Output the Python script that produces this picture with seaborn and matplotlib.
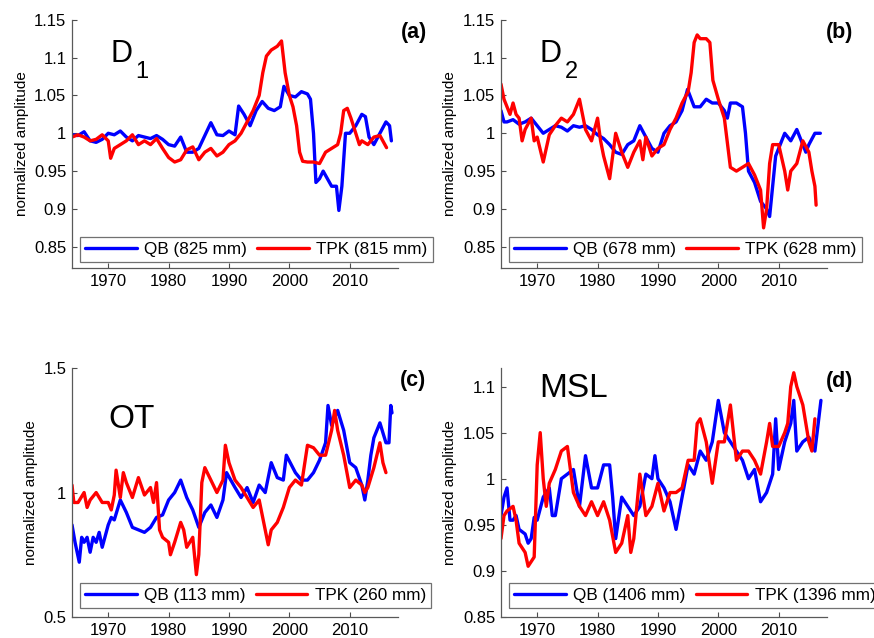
import matplotlib
matplotlib.use("Agg")
import matplotlib.pyplot as plt
import seaborn as sns
import pandas as pd

# ---- (a) D1 ----
a_qb_year = [1964, 1965, 1966, 1967, 1968, 1969, 1970, 1971, 1972, 1973, 1974, 1975, 1976, 1977,
             1978, 1979, 1980, 1981, 1982, 1983, 1984, 1985, 1986, 1987, 1988, 1989, 1990, 1991,
             1991.6, 1992.5, 1993.5, 1994.5, 1995.5, 1996.5, 1997.5, 1998.5, 1999.1, 2000, 2001,
             2002, 2003, 2003.5, 2004.0, 2004.4, 2005, 2005.6, 2006.3, 2007, 2007.8, 2008.2,
             2008.7, 2009.3, 2010, 2011, 2012, 2012.6, 2013.2, 2014, 2015, 2016, 2016.6, 2016.9]
a_qb_amp = [0.998, 0.997, 1.002, 0.99, 0.988, 0.992, 1.0, 0.998, 1.003, 0.995, 0.99, 0.997, 0.995,
            0.993, 0.997, 0.992, 0.985, 0.983, 0.995, 0.975, 0.975, 0.98, 0.997, 1.014, 0.998,
            0.997, 1.003, 0.998, 1.036, 1.025, 1.01, 1.03, 1.042, 1.033, 1.03, 1.035, 1.062, 1.05,
            1.048, 1.055, 1.052, 1.045, 1.0, 0.935, 0.94, 0.95, 0.94, 0.93, 0.93, 0.898, 0.93, 1.0,
            1.0, 1.01, 1.025, 1.022, 0.995, 0.985, 1.0, 1.015, 1.01, 0.99]
a_tpk_year = [1964, 1965, 1966, 1967, 1968, 1969, 1970, 1970.4, 1971, 1972, 1973, 1974, 1975,
              1976, 1977, 1978, 1979, 1980, 1981, 1982, 1983, 1984, 1985, 1986, 1987, 1988, 1989,
              1990, 1991, 1992, 1993, 1994, 1995, 1995.6, 1996.2, 1997, 1998, 1998.7, 1999.3,
              2000, 2000.6, 2001.2, 2001.7, 2002.2, 2003, 2004, 2005, 2006, 2007, 2008, 2008.5,
              2009, 2009.6, 2010.2, 2011, 2011.6, 2012, 2013, 2014, 2015, 2016.1]
a_tpk_amp = [0.995, 0.998, 0.995, 0.99, 0.992, 0.998, 0.99, 0.967, 0.98, 0.985, 0.99, 0.998,
             0.985, 0.99, 0.985, 0.993, 0.98, 0.968, 0.962, 0.965, 0.978, 0.982, 0.965, 0.975,
             0.98, 0.97, 0.975, 0.985, 0.99, 1.0, 1.015, 1.03, 1.05, 1.08, 1.102, 1.11, 1.115,
             1.122, 1.08, 1.05, 1.035, 1.01, 0.975, 0.963, 0.962, 0.962, 0.96, 0.975, 0.98, 0.985,
             1.0, 1.03, 1.033, 1.02, 1.0, 0.985, 0.99, 0.985, 0.995, 0.997, 0.981]

# ---- (b) D2 ----
b_qb_year = [1964, 1964.5, 1965, 1966, 1967, 1968, 1969, 1970, 1971, 1972, 1973, 1974, 1975, 1976,
             1977, 1978, 1979, 1980, 1981, 1982, 1983, 1984, 1985, 1986, 1987, 1988, 1989, 1990,
             1991, 1992, 1993, 1994, 1994.9, 1996, 1997, 1998, 1999, 2000, 2001, 2001.5, 2002,
             2003, 2004, 2004.5, 2005, 2006, 2007, 2008, 2008.5, 2009, 2009.5, 2010, 2011, 2012,
             2013, 2014, 2014.5, 2015, 2016, 2016.9]
b_qb_amp = [1.03, 1.015, 1.015, 1.018, 1.012, 1.015, 1.02, 1.01, 1.0, 1.005, 1.01, 1.008, 1.003,
            1.01, 1.008, 1.01, 1.005, 0.998, 0.993, 0.985, 0.975, 0.972, 0.985, 0.99, 1.01, 0.995,
            0.98, 0.975, 1.0, 1.01, 1.015, 1.03, 1.058, 1.035, 1.035, 1.045, 1.04, 1.04, 1.03,
            1.02, 1.04, 1.04, 1.035, 1.0, 0.95, 0.935, 0.91, 0.9, 0.89, 0.93, 0.97, 0.98, 1.0,
            0.99, 1.005, 0.985, 0.975, 0.985, 1.0, 1.0]
b_tpk_year = [1964, 1964.5, 1965, 1965.5, 1966, 1966.5, 1967, 1967.5, 1968, 1969, 1969.5, 1970,
              1971, 1972, 1973, 1974, 1975, 1976, 1977, 1978, 1979, 1980, 1980.5, 1981, 1982,
              1983, 1984, 1985, 1986, 1987, 1987.5, 1988, 1989, 1990, 1991, 1992, 1993, 1994,
              1995, 1995.5, 1996, 1996.5, 1997, 1998, 1998.6, 1999.1, 2000, 2001, 2002, 2003,
              2004, 2005, 2006, 2007, 2007.5, 2008, 2008.5, 2009, 2010, 2011, 2011.5, 2012, 2013,
              2014, 2015, 2015.5, 2016, 2016.2]
b_tpk_amp = [1.065, 1.045, 1.035, 1.025, 1.04, 1.025, 1.02, 0.99, 1.005, 1.02, 0.99, 0.995,
             0.962, 0.998, 1.01, 1.02, 1.015, 1.025, 1.045, 1.005, 0.99, 1.02, 0.99, 0.97, 0.94,
             1.0, 0.975, 0.955, 0.975, 0.99, 0.965, 0.995, 0.97, 0.98, 0.985, 1.005, 1.02, 1.04,
             1.055, 1.08, 1.12, 1.13, 1.125, 1.125, 1.12, 1.07, 1.045, 1.02, 0.955, 0.95, 0.955,
             0.96, 0.945, 0.925, 0.875, 0.9, 0.96, 0.985, 0.985, 0.95, 0.925, 0.95, 0.96, 0.99,
             0.975, 0.95, 0.93, 0.905]

# ---- (c) OT ----
c_qb_year = [1964, 1964.5, 1965.2, 1965.6, 1966, 1966.5, 1967, 1967.5, 1968, 1968.5, 1969, 1970,
             1970.5, 1971, 1972, 1973, 1974, 1975, 1976, 1977, 1978, 1979, 1980, 1981, 1982,
             1983, 1984, 1985, 1986, 1987, 1988, 1989, 1989.6, 1991, 1992, 1993, 1994, 1995,
             1996, 1997, 1998, 1999, 1999.5, 2001, 2002, 2003, 2004, 2005, 2006, 2006.4, 2007,
             2008, 2009, 2010, 2011, 2012, 2012.5, 2013, 2013.5, 2014, 2015, 2016, 2016.5,
             2016.8, 2017]
c_qb_amp = [0.87, 0.8, 0.72, 0.82, 0.8, 0.82, 0.76, 0.82, 0.8, 0.84, 0.78, 0.87, 0.9, 0.89, 0.97,
            0.92, 0.86, 0.85, 0.84, 0.86, 0.9, 0.91, 0.97, 1.0, 1.05, 0.98, 0.93, 0.86, 0.92,
            0.95, 0.9, 0.97, 1.08, 1.02, 0.98, 1.02, 0.96, 1.03, 1.0, 1.12, 1.06, 1.05, 1.15,
            1.08, 1.05, 1.05, 1.08, 1.13, 1.2, 1.35, 1.27, 1.33, 1.25, 1.12, 1.1, 1.03, 0.97,
            1.05, 1.15, 1.22, 1.28, 1.2, 1.2, 1.35, 1.32]
c_tpk_year = [1964, 1964.3, 1965, 1966, 1966.5, 1967, 1968, 1969, 1970, 1970.5, 1971, 1971.3,
              1972, 1972.5, 1973, 1974, 1975, 1976, 1977, 1977.5, 1978, 1978.5, 1979, 1980,
              1980.3, 1981, 1982, 1982.5, 1983, 1984, 1984.6, 1985, 1985.5, 1986, 1987, 1988,
              1989, 1989.4, 1990, 1991, 1992, 1993, 1994, 1995, 1996, 1996.5, 1997, 1998, 1999,
              2000, 2001, 2002, 2003, 2004, 2005, 2006, 2007, 2007.5, 2008, 2009, 2010, 2011,
              2012, 2012.5, 2013, 2014, 2015, 2015.5, 2016]
c_tpk_amp = [1.03, 0.96, 0.96, 1.0, 0.94, 0.97, 1.0, 0.96, 0.96, 0.93, 0.99, 1.09, 0.98, 1.08,
             1.04, 0.98, 1.06, 0.99, 1.02, 0.96, 1.04, 0.85, 0.82, 0.8, 0.75, 0.8, 0.88, 0.85,
             0.78, 0.82, 0.67, 0.75, 1.04, 1.1, 1.05, 1.0, 1.05, 1.19, 1.12, 1.05, 1.02, 0.98,
             0.94, 0.97, 0.85, 0.79, 0.85, 0.88, 0.94, 1.02, 1.05, 1.03, 1.19, 1.18, 1.15, 1.15,
             1.25, 1.33, 1.25, 1.15, 1.02, 1.05, 1.03, 1.0, 1.02, 1.1, 1.2, 1.12, 1.08]

# ---- (d) MSL ----
d_qb_year = [1964, 1964.5, 1965, 1965.5, 1966, 1966.5, 1967, 1968, 1968.5, 1969, 1969.5, 1970,
             1971, 1972, 1972.5, 1973, 1974, 1975, 1976, 1977, 1978, 1979, 1980, 1981, 1982,
             1982.5, 1983, 1984, 1985, 1986, 1987, 1988, 1989, 1989.5, 1990, 1991, 1992, 1993,
             1994, 1995, 1996, 1997, 1998, 1999, 2000, 2001, 2002, 2003, 2004, 2005, 2006, 2007,
             2008, 2009, 2009.5, 2010, 2011, 2012, 2012.5, 2013, 2014, 2015, 2016, 2017]
d_qb_amp = [0.96, 0.98, 0.99, 0.955, 0.955, 0.96, 0.945, 0.94, 0.93, 0.935, 0.958, 0.955, 0.98,
            0.99, 0.96, 0.96, 1.0, 1.005, 1.01, 0.97, 1.025, 0.99, 0.99, 1.015, 1.015, 0.98,
            0.935, 0.98, 0.97, 0.96, 0.97, 1.005, 1.0, 1.025, 1.0, 0.99, 0.975, 0.945, 0.98,
            1.015, 1.005, 1.03, 1.02, 1.04, 1.085, 1.05, 1.04, 1.03, 1.02, 1.0, 1.01, 0.975,
            0.985, 1.005, 1.065, 1.01, 1.04, 1.06, 1.085, 1.03, 1.04, 1.045, 1.03, 1.085]
d_tpk_year = [1964, 1964.5, 1965, 1966, 1966.5, 1967, 1968, 1968.5, 1969, 1969.5, 1970, 1970.5,
              1971, 1971.5, 1972, 1973, 1974, 1975, 1976, 1977, 1978, 1979, 1980, 1981, 1982,
              1983, 1984, 1985, 1985.5, 1986, 1987, 1988, 1989, 1990, 1991, 1992, 1993, 1994,
              1995, 1996, 1996.5, 1997, 1998, 1999, 2000, 2001, 2002, 2003, 2004, 2005, 2006,
              2007, 2008, 2008.5, 2009, 2010, 2011, 2011.5, 2012, 2012.5, 2013, 2014, 2015,
              2015.5, 2016]
d_tpk_amp = [0.935, 0.96, 0.965, 0.97, 0.955, 0.93, 0.92, 0.905, 0.91, 0.915, 1.015, 1.05, 1.0,
             0.97, 0.995, 1.01, 1.03, 1.035, 0.985, 0.97, 0.96, 0.975, 0.96, 0.975, 0.955, 0.92,
             0.93, 0.96, 0.92, 0.935, 1.005, 0.96, 0.97, 0.995, 0.965, 0.985, 0.985, 0.99, 1.02,
             1.02, 1.06, 1.065, 1.04, 0.995, 1.04, 1.04, 1.08, 1.02, 1.03, 1.03, 1.02, 1.005,
             1.04, 1.06, 1.035, 1.035, 1.05, 1.06, 1.1, 1.115, 1.1, 1.08, 1.04, 1.03, 1.065]

legend_labels = {
    "a": ("QB (825 mm)", "TPK (815 mm)"),
    "b": ("QB (678 mm)", "TPK (628 mm)"),
    "c": ("QB (113 mm)", "TPK (260 mm)"),
    "d": ("QB (1406 mm)", "TPK (1396 mm)"),
}
y_ticks = {
    "a": [0.85, 0.9, 0.95, 1.0, 1.05, 1.1, 1.15],
    "b": [0.85, 0.9, 0.95, 1.0, 1.05, 1.1, 1.15],
    "c": [0.5, 1.0, 1.5],
    "d": [0.85, 0.9, 0.95, 1.0, 1.05, 1.1],
}
y_tick_labels = {
    "a": ["0.85", "0.9", "0.95", "1", "1.05", "1.1", "1.15"],
    "b": ["0.85", "0.9", "0.95", "1", "1.05", "1.1", "1.15"],
    "c": ["0.5", "1", "1.5"],
    "d": ["0.85", "0.9", "0.95", "1", "1.05", "1.1"],
}
x_ticks = [1970, 1980, 1990, 2000, 2010]

series = {
    "a": (a_qb_year, a_qb_amp, a_tpk_year, a_tpk_amp),
    "b": (b_qb_year, b_qb_amp, b_tpk_year, b_tpk_amp),
    "c": (c_qb_year, c_qb_amp, c_tpk_year, c_tpk_amp),
    "d": (d_qb_year, d_qb_amp, d_tpk_year, d_tpk_amp),
}

sns.set_theme(style="ticks")
plt.rcParams["font.family"] = ["Liberation Sans", "DejaVu Sans"]
plt.rcParams["text.color"] = "black"
plt.rcParams["axes.labelcolor"] = "black"
plt.rcParams["xtick.labelcolor"] = "black"
plt.rcParams["ytick.labelcolor"] = "black"

fig = plt.figure(figsize=(8.74, 6.38), dpi=100)

# axes rectangles and limits
rects = {
    "a": [0.0824, 0.580, 0.373, 0.389],
    "b": [0.5732, 0.580, 0.373, 0.389],
    "c": [0.0824, 0.033, 0.373, 0.390],
    "d": [0.5732, 0.033, 0.373, 0.390],
}
ylims = {"a": (0.822, 1.15), "b": (0.822, 1.15), "c": (0.5, 1.5), "d": (0.85, 1.12)}
legend_y = {"a": 0.022, "b": 0.022, "c": 0.034, "d": 0.034}

for key in ["a", "b", "c", "d"]:
    ax = fig.add_axes(rects[key])
    qb_x, qb_y, tpk_x, tpk_y = series[key]
    lab_qb, lab_tpk = legend_labels[key]
    df = pd.concat([
        pd.DataFrame({"year": qb_x, "amp": qb_y, "series": lab_qb}),
        pd.DataFrame({"year": tpk_x, "amp": tpk_y, "series": lab_tpk}),
    ])
    sns.lineplot(data=df, x="year", y="amp", hue="series",
                 palette={lab_qb: "#0000ff", lab_tpk: "#ff0000"},
                 estimator=None, linewidth=2.4, ax=ax)
    ax.set_xlim(1964, 2018)
    ax.set_ylim(*ylims[key])
    ax.set_xticks(x_ticks)
    ax.set_yticks(y_ticks[key])
    ax.set_yticklabels(y_tick_labels[key])
    ax.set_xlabel("")
    ax.set_ylabel("normalized amplitude", fontsize=11, color="black")
    ax.tick_params(direction="in", length=3.5, width=0.8, labelsize=12,
                   color="0.3", labelcolor="black", pad=4)
    sns.despine(ax=ax)
    for s in ["left", "bottom"]:
        ax.spines[s].set_color("0.35")
        ax.spines[s].set_linewidth(0.9)
    leg = ax.legend(loc="lower left", bbox_to_anchor=(0.025, legend_y[key]), ncol=2,
                    fontsize=12.3, handlelength=3.0, handletextpad=0.45,
                    columnspacing=0.6, borderpad=0.3, borderaxespad=0.0,
                    frameon=True, fancybox=False, labelcolor="black")
    leg.get_frame().set_edgecolor("0.3")
    leg.get_frame().set_linewidth(0.9)

    letter_x = {"a": 1.049, "b": 1.038, "c": 1.046, "d": 1.038}[key]
    letter_y = {"a": 0.95, "b": 0.95, "c": 0.949, "d": 0.946}[key]
    ax.text(letter_x, letter_y, f"({key})", transform=ax.transAxes, fontsize=15.5,
            fontweight="bold", ha="center", va="center", clip_on=False, color="black")

    if key in ("a", "b"):
        ax.text(0.117, 0.83, "D", transform=ax.transAxes, fontsize=22, va="baseline",
                color="black")
        ax.text(0.195, 0.766, "1" if key == "a" else "2", transform=ax.transAxes,
                fontsize=17, va="baseline", color="black")
    elif key == "c":
        ax.text(0.11, 0.759, "OT", transform=ax.transAxes, fontsize=24, va="baseline",
                color="black")
    else:
        ax.text(0.116, 0.882, "MSL", transform=ax.transAxes, fontsize=24, va="baseline",
                color="black")

fig.savefig("out.png", dpi=100)
